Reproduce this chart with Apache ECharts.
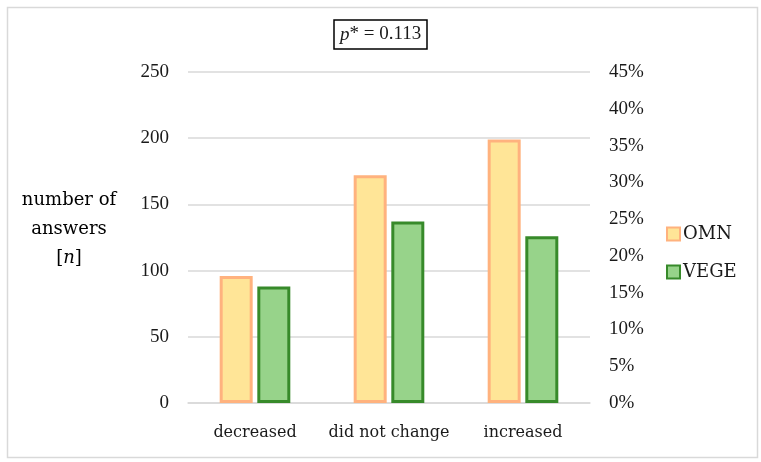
<!DOCTYPE html>
<html>
<head>
<meta charset="utf-8">
<script src="https://cdn.jsdelivr.net/npm/echarts@6/dist/echarts.min.js"></script>
<style>
html,body{margin:0;padding:0;background:#fff;}
#c{width:761px;height:462px;}
</style>
</head>
<body>
<div id="c"></div>
<script>
const categories = ['decreased', 'did not change', 'increased'];
const omnValues = [96, 172, 199];
const vegeValues = [88, 137, 126];
const seriesNames = ['OMN', 'VEGE'];
const leftTicks = { min: 0, max: 250, interval: 50 };
const rightTicks = { min: 0, max: 0.45, interval: 0.05 };
const pValue = '0.113';

const FONT = 'DejaVu Serif';
const NUMFONT = 'Liberation Serif';
const TXT = '#1a1a1a';
const chart = echarts.init(document.getElementById('c'), null, { renderer: 'canvas' });

chart.setOption({
  backgroundColor: '#fff',
  animation: false,
  textStyle: { fontFamily: FONT, color: TXT },
  title: {
    text: '{i|p}{n|* = ' + pValue + '}',
    left: 334,
    top: 20,
    padding: [5, 6, 5, 6],
    borderColor: '#000',
    borderWidth: 1.5,
    textStyle: {
      fontWeight: 'normal',
      rich: {
        i: { fontFamily: NUMFONT, fontStyle: 'italic', fontWeight: 'normal', fontSize: 19, color: TXT },
        n: { fontFamily: NUMFONT, fontWeight: 'normal', fontSize: 19, color: TXT }
      }
    }
  },
  legend: {
    orient: 'vertical',
    left: 666,
    top: 225,
    padding: 0,
    itemWidth: 13,
    itemHeight: 13,
    itemGap: 20,
    icon: 'rect',
    textStyle: { fontFamily: FONT, fontSize: 18, color: TXT, padding: [0, 0, 0, -2] },
    data: seriesNames
  },
  grid: { left: 188, right: 171, top: 72, bottom: 59, containLabel: false },
  xAxis: {
    type: 'category',
    data: categories,
    boundaryGap: true,
    axisTick: { show: false },
    axisLine: { show: true, lineStyle: { color: '#d9d9d9', width: 1.5 } },
    axisLabel: { interval: 0, fontFamily: FONT, fontSize: 16, color: TXT, margin: 22 }
  },
  yAxis: [
    {
      type: 'value',
      min: leftTicks.min, max: leftTicks.max, interval: leftTicks.interval,
      axisLine: { show: false },
      axisTick: { show: false },
      splitLine: { show: true, lineStyle: { color: '#d9d9d9', width: 1.5 } },
      axisLabel: { fontFamily: NUMFONT, fontSize: 19, color: TXT, margin: 19 }
    },
    {
      type: 'value',
      position: 'right',
      min: rightTicks.min, max: rightTicks.max, interval: rightTicks.interval,
      axisLine: { show: false },
      axisTick: { show: false },
      splitLine: { show: false },
      axisLabel: {
        fontFamily: NUMFONT, fontSize: 19, color: TXT, margin: 19,
        formatter: function (v) { return Math.round(v * 100) + '%'; }
      }
    }
  ],
  graphic: [
    {
      type: 'text',
      x: 69,
      y: 186,
      style: {
        text: '{a|number of}\n{a|answers}\n{a|[}{b|n}{a|]}',
        align: 'center',
        verticalAlign: 'top',
        rich: {
          a: { fontFamily: FONT, fontSize: 18, color: TXT, lineHeight: 29 },
          b: { fontFamily: FONT, fontSize: 18, fontStyle: 'italic', color: TXT, lineHeight: 29 }
        }
      }
    },
    {
      type: 'rect',
      left: 5, top: 5,
      shape: { width: 750, height: 450 },
      style: { fill: 'none', stroke: '#d9d9d9', lineWidth: 1.5 },
      silent: true
    }
  ],
  series: [
    {
      name: seriesNames[0],
      type: 'bar',
      data: omnValues,
      barWidth: 33,
      barGap: '14%',
      itemStyle: { color: '#FFE597', borderColor: '#FFB27E', borderWidth: 3 }
    },
    {
      name: seriesNames[1],
      type: 'bar',
      data: vegeValues,
      barWidth: 33,
      itemStyle: { color: '#97D38A', borderColor: '#378A2A', borderWidth: 3 }
    }
  ]
});
</script>
</body>
</html>
